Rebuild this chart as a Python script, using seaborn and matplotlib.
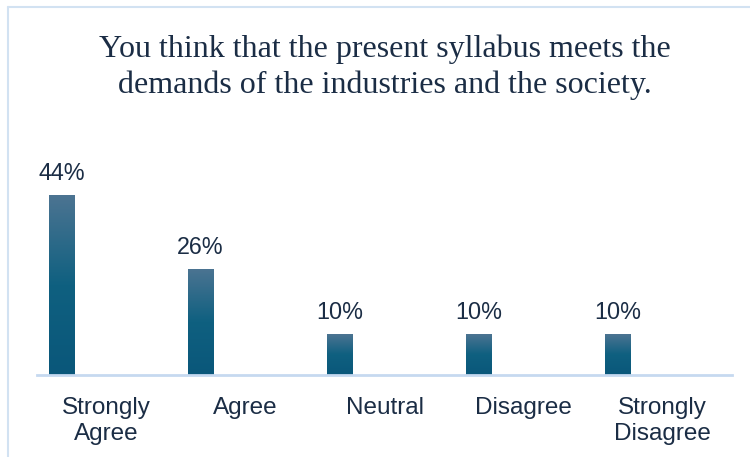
import numpy as np
import pandas as pd
import matplotlib.pyplot as plt
import seaborn as sns
from matplotlib.colors import LinearSegmentedColormap
from matplotlib.lines import Line2D

# Data
categories = ["Strongly\nAgree", "Agree", "Neutral", "Disagree", "Strongly\nDisagree"]
percent = [44, 26, 10, 10, 10]
title = "You think that the present syllabus meets the\ndemands of the industries and the society."

text_color = "#1b2d45"
line_color = "#c6d9f0"

sns.set_style("white")
plt.rcParams["font.family"] = ["Liberation Sans", "DejaVu Sans"]

fig = plt.figure(figsize=(7.5, 4.57), dpi=100)
ax = fig.add_axes([37 / 750, 82 / 457, 695 / 750, 204.5 / 457])

# bars sit at the left of each category slot
df = pd.DataFrame({"pos": np.arange(len(categories)) - 0.324, "pct": percent})
sns.barplot(data=df, x="pos", y="pct", native_scale=True, width=0.18,
            color="#0b5a7d", linewidth=0, ax=ax)

# gradient fill, light on top
cmap = LinearSegmentedColormap.from_list("bar", ["#0a577a", "#0f6080", "#4c7492"])
grad = np.linspace(0, 1, 256).reshape(-1, 1)
for p in ax.patches:
    x0, y0, w, h = p.get_x(), p.get_y(), p.get_width(), p.get_height()
    im = ax.imshow(grad, cmap=cmap, origin="lower", aspect="auto",
                   extent=[x0, x0 + w, y0, y0 + h], zorder=2)
    im.set_clip_path(p)
    p.set_facecolor("none")

ax.bar_label(ax.containers[0], labels=[f"{v}%" for v in percent],
             padding=7, fontsize=16.8, color=text_color)

ax.set_xlim(-0.5, len(categories) - 0.5)
ax.set_ylim(0, 50)
ax.set_xticks(np.arange(len(categories)))
ax.set_xticklabels(categories, fontsize=17.5, color=text_color, linespacing=1.24)
ax.set_yticks([])
ax.set_xlabel("")
ax.set_ylabel("")
ax.tick_params(axis="x", length=0, pad=16)
for s in ["left", "right", "top"]:
    ax.spines[s].set_visible(False)
ax.spines["bottom"].set_color(line_color)
ax.spines["bottom"].set_linewidth(2)

# chart frame
fig.add_artist(Line2D([7.5 / 750, 7.5 / 750], [0, 1 - 7 / 457], color="#d2e2f2", lw=1.5))
fig.add_artist(Line2D([7.5 / 750, 1], [1 - 7 / 457, 1 - 7 / 457], color="#d2e2f2", lw=1.5))

fig.text(384.5 / 750, 1 - 35 / 457, title, ha="center", va="top",
         family=["Liberation Serif", "DejaVu Serif"], fontsize=23,
         color=text_color, linespacing=1.25)

plt.savefig("out.png", dpi=100)
